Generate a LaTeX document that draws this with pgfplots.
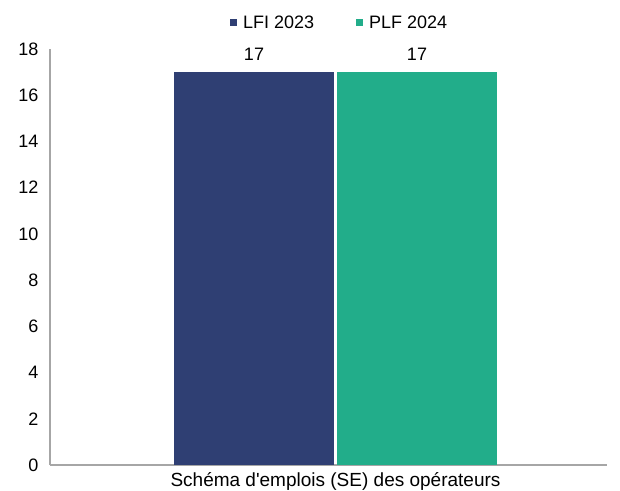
\documentclass[border=0pt]{standalone}
\usepackage{pgfplots}
\pgfplotsset{compat=1.18}
\usepackage{fontspec}
\setmainfont{Liberation Sans}
\definecolor{navy}{HTML}{2F3F73}
\definecolor{teal}{HTML}{22AD8A}
\definecolor{axgray}{HTML}{A6A6A6}
\begin{document}
\begin{tikzpicture}
\path[use as bounding box] (-50pt,-25pt) rectangle (570pt,465pt);
\begin{axis}[
  at={(0pt,0pt)}, anchor=south west,
  scale only axis, width=557pt, height=416pt,
  xmin=-285.5, xmax=271.5, ymin=0, ymax=18,
  ytick={0,2,...,18},
  xtick={0}, xticklabels={Schéma d\textquotesingle emplois (SE) des opérateurs},
  major tick length=0pt,
  axis x line*=bottom, axis y line*=left,
  axis line style={axgray, line width=1.2pt},
  x axis line style={-}, y axis line style={-},
  tick label style={font=\fontsize{18}{21}\selectfont},
  xticklabel style={font=\fontsize{19}{22}\selectfont, yshift=-4pt},
  /pgf/number format/assume math mode=true,
  yticklabel style={xshift=-8pt},
  ybar, bar width=160pt,
  nodes near coords,
  every node near coord/.append style={font=\fontsize{18}{21}\selectfont, text=black, yshift=8pt},
  legend style={draw=none, at={(0.52,1.0)}, anchor=south, yshift=15pt,
    legend columns=2, font=\fontsize{18}{21}\selectfont,
    /tikz/every odd column/.append style={column sep=4pt},
    /tikz/every even column/.append style={column sep=40pt}},
  legend image code/.code={\fill[#1] (0pt,-3.5pt) rectangle (7pt,3.5pt);},
]
\addplot[fill=navy, draw=none, bar shift=-81.5pt] coordinates {(0,17)};
\addplot[fill=teal, draw=none, bar shift=81.5pt] coordinates {(0,17)};
\legend{LFI 2023, PLF 2024}
\end{axis}
\end{tikzpicture}
\end{document}
